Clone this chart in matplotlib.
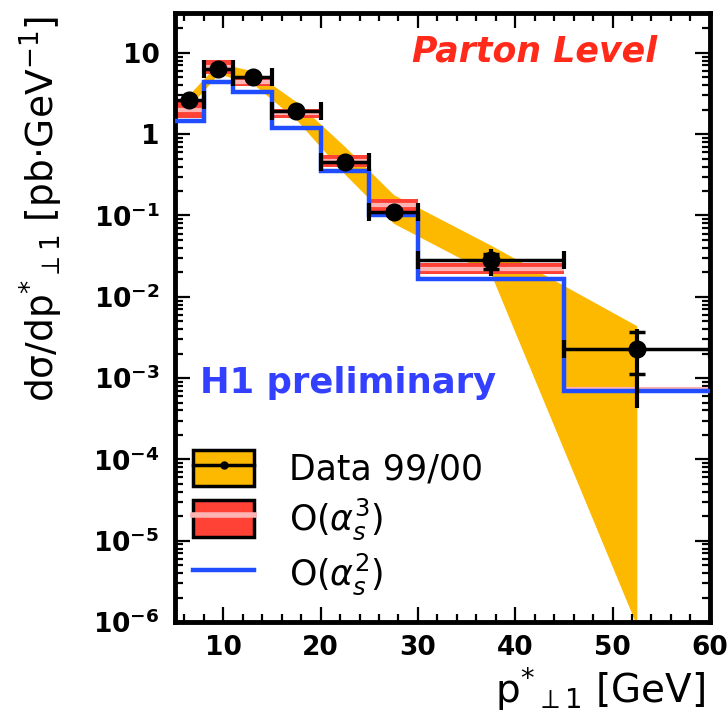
import numpy as np
import matplotlib.pyplot as plt
from matplotlib.patches import Patch
from matplotlib.lines import Line2D
from matplotlib.legend_handler import HandlerTuple
from matplotlib.ticker import FixedLocator, FixedFormatter, LogLocator, MultipleLocator, NullFormatter

# binning in p*_perp1 [GeV]
bin_edges = [5, 8, 11, 15, 20, 25, 30, 45, 60]

# data 99/00 (points, total and stat error ends)
data_y = [2.6, 6.3, 5.0, 1.9, 0.45, 0.11, 0.028, 0.0023]
tot_hi = [2.8, 6.9, 5.4, 2.05, 0.49, 0.13, 0.039, 0.0040]
tot_lo = [2.4, 5.8, 4.6, 1.75, 0.41, 0.09, 0.018, 0.00043]
stat_hi = [2.7, 6.6, 5.2, 1.98, 0.47, 0.12, 0.034, 0.0037]
stat_lo = [2.5, 6.0, 4.8, 1.82, 0.43, 0.10, 0.022, 0.00112]

# systematic band drawn through the bin centres
band_hi = [3.1, 7.5, 6.0, 2.5, 0.70, 0.18, 0.043, 0.0044]
band_lo = [2.2, 5.5, 4.2, 1.5, 0.32, 0.08, 0.019, 9e-7]

# NLO O(as^3) band and LO O(as^2)
nlo_hi = [2.5, 8.2, 5.0, 2.05, 0.56, 0.158, 0.026, 0.00078]
nlo_lo = [1.58, 5.5, 3.9, 1.58, 0.39, 0.115, 0.019, 0.00070]
lo_y = [1.45, 4.4, 3.3, 1.19, 0.35, 0.10, 0.0166, 0.00069]

y_ticks = [1e-6, 1e-5, 1e-4, 1e-3, 1e-2, 1e-1, 1, 10]
y_labels = [r'$\mathbf{10^{-6}}$', r'$\mathbf{10^{-5}}$', r'$\mathbf{10^{-4}}$',
            r'$\mathbf{10^{-3}}$', r'$\mathbf{10^{-2}}$', r'$\mathbf{10^{-1}}$', '1', '10']

YELLOW = '#fcb900'
RED = '#ff4136'
PINK = '#ffb4b4'
BLUE = '#1f4dff'

edges = np.array(bin_edges)
centres = 0.5 * (edges[:-1] + edges[1:])
half = 0.5 * np.diff(edges)
y = np.array(data_y)

fig = plt.figure(figsize=(7.28, 7.15), dpi=100)
ax = fig.add_axes([0.240, 0.130, 0.735, 0.852])
ax.set_yscale('log')

ax.fill_between(centres, band_lo, band_hi, color=YELLOW, lw=0, zorder=1)
ax.stairs(nlo_hi, edges, baseline=nlo_lo, fill=True, color=RED, lw=0, zorder=2)
ax.hlines(np.sqrt(np.array(nlo_hi) * np.array(nlo_lo)), edges[:-1], edges[1:],
          color=PINK, lw=3, zorder=2)
ax.stairs(lo_y, edges, baseline=None, color=BLUE, lw=3.2, zorder=3)

ax.errorbar(centres, y, xerr=half, fmt='none', ecolor='k', elinewidth=2.5,
            capsize=6.5, capthick=3, zorder=4)
ax.errorbar(centres, y, yerr=[y - np.array(tot_lo), np.array(tot_hi) - y],
            fmt='o', color='k', ms=12, elinewidth=3, capsize=0, zorder=5)
ax.errorbar(centres, y, yerr=[y - np.array(stat_lo), np.array(stat_hi) - y],
            fmt='none', ecolor='k', elinewidth=0, capsize=6, capthick=2.5, zorder=5)

ax.set_xlim(5, 60)
ax.set_ylim(1e-6, 31)

ax.xaxis.set_major_locator(MultipleLocator(10))
ax.xaxis.set_minor_locator(MultipleLocator(2))
ax.yaxis.set_major_locator(FixedLocator(y_ticks))
ax.yaxis.set_major_formatter(FixedFormatter(y_labels))
ax.yaxis.set_minor_locator(LogLocator(base=10, subs=np.arange(2, 10)))
ax.yaxis.set_minor_formatter(NullFormatter())

ax.tick_params(which='both', direction='in', top=True, right=True, width=1.6)
ax.tick_params(which='major', length=11)
ax.tick_params(which='minor', length=5.5)
ax.tick_params(axis='x', pad=9, labelsize=19)
ax.tick_params(axis='y', pad=11, labelsize=19)
for lab in ax.get_xticklabels() + ax.get_yticklabels():
    lab.set_fontweight('bold')
for sp in ax.spines.values():
    sp.set_linewidth(3.5)

ax.set_xlabel(r'p$^{*}{}_{\perp 1}$ [GeV]', fontsize=28, loc='right')
ax.xaxis.set_label_coords(0.99, -0.07)
ax.set_ylabel(r'd$\mathrm{\sigma}$/dp$^{*}{}_{\perp 1}$ [pb$\cdot$GeV$^{-1}$]',
              fontsize=27, loc='top')
ax.yaxis.set_label_coords(-0.205, 0.995)

ax.text(0.443, 0.92, 'Parton Level', transform=ax.transAxes, color='#ff2a1a',
        fontsize=25, fontweight='bold', fontstyle='italic', va='baseline')
ax.text(0.047, 0.376, 'H1 preliminary', transform=ax.transAxes, color='#3340ff',
        fontsize=25.5, fontweight='bold', va='baseline')

handles = [
    (Patch(facecolor=YELLOW, edgecolor='k', lw=2.5),
     Line2D([], [], color='k', lw=2.5, marker='o', ms=5)),
    (Patch(facecolor=RED, edgecolor='k', lw=2.5),
     Line2D([], [], color=PINK, lw=4)),
    Line2D([], [], color=BLUE, lw=3.2),
]
labels = ['Data 99/00', r'O($\alpha_s^3$)', r'O($\alpha_s^2$)']
ax.legend(handles, labels, handler_map={tuple: HandlerTuple(ndivide=1)},
          loc='upper left', bbox_to_anchor=(0.035, 0.283), frameon=False,
          fontsize=25, handlelength=1.75, handleheight=1.25, handletextpad=1.0,
          labelspacing=0.28, borderpad=0, borderaxespad=0)

fig.savefig('out.png', dpi=100)
